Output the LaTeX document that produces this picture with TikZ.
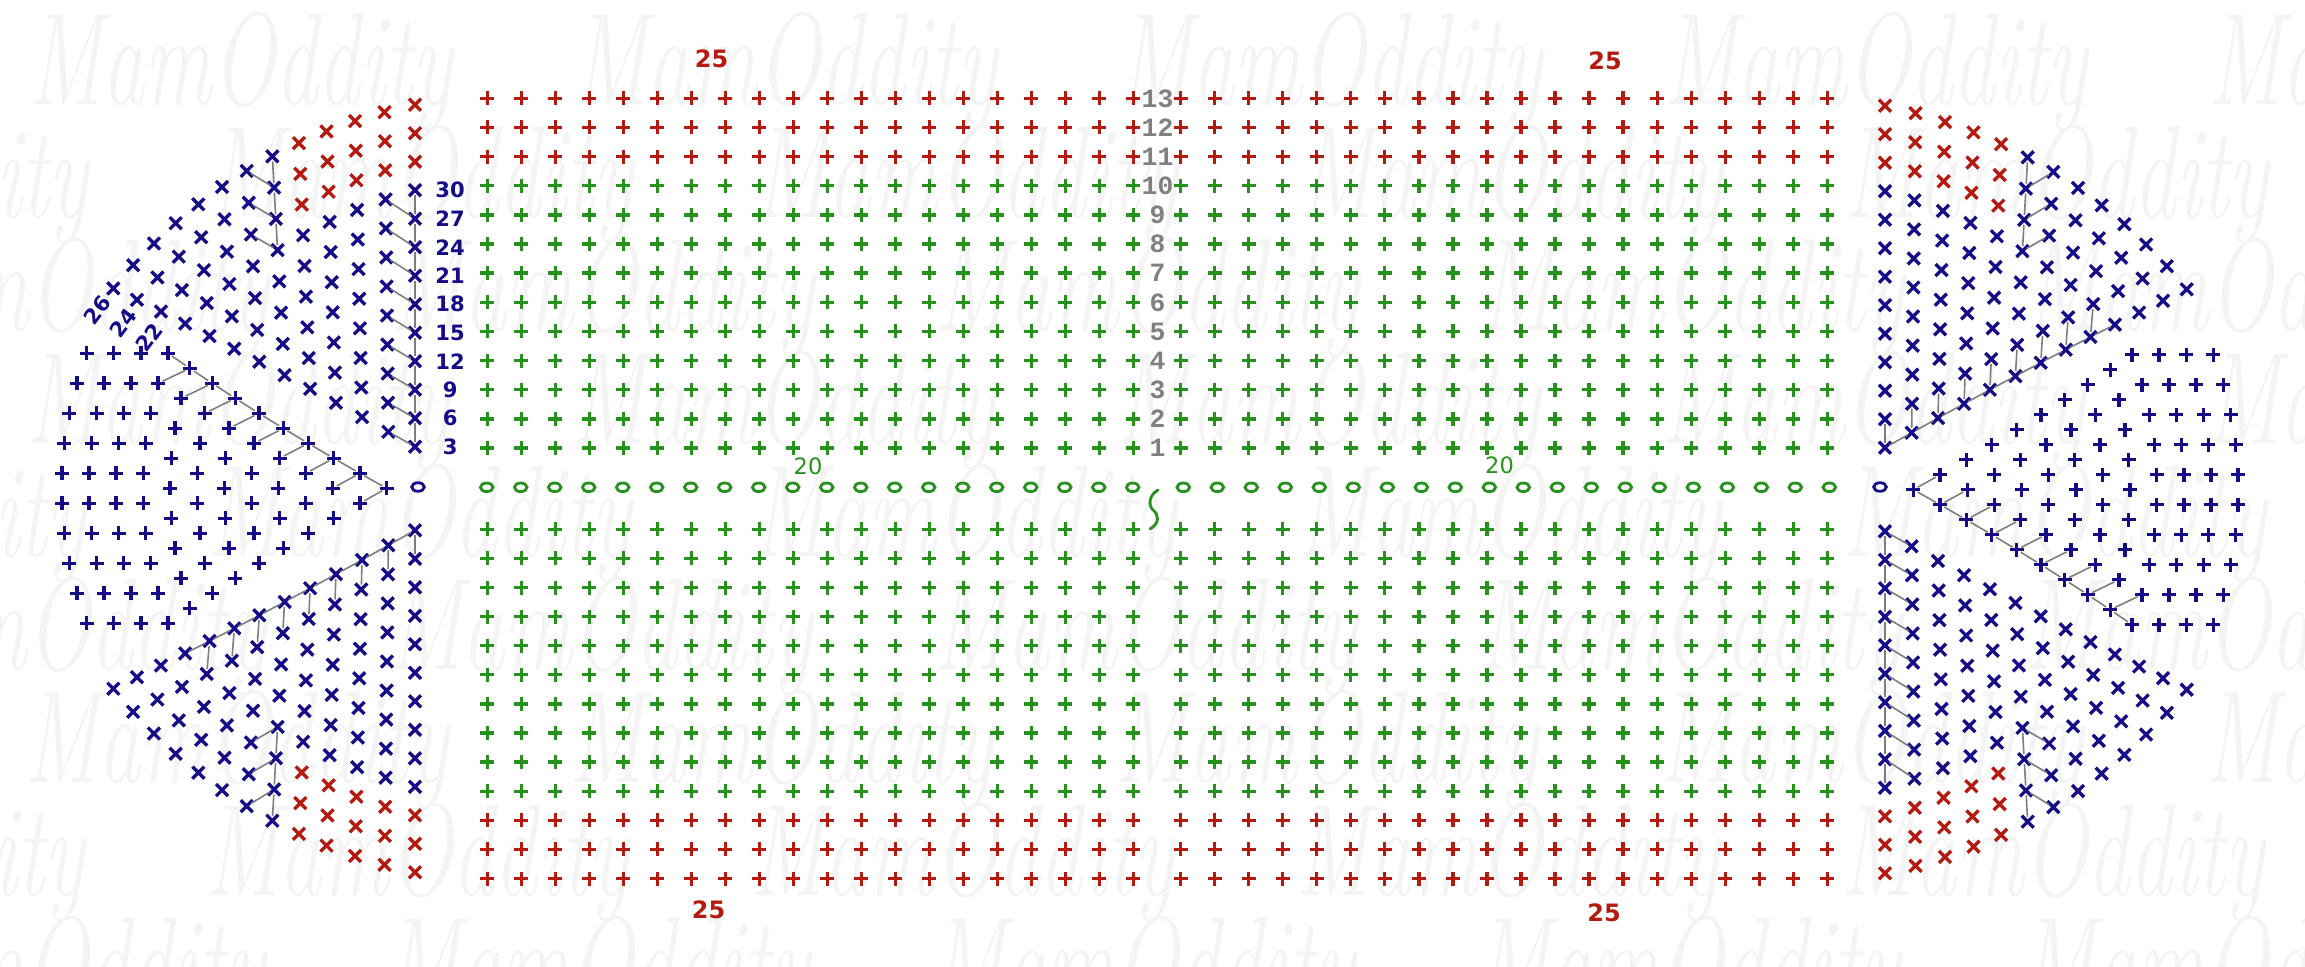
\documentclass[tikz,border=0pt]{standalone}
\usepackage{fontspec}
\usepackage{tikz}
\usetikzlibrary{positioning}
\newfontfamily\labfont{DejaVu Sans}
\newfontfamily\rowfont{Liberation Mono}

\definecolor{stred}{RGB}{180,26,16}
\definecolor{stgreen}{RGB}{38,145,28}
\definecolor{stnavy}{RGB}{22,12,135}
\definecolor{rowgray}{RGB}{128,128,128}
\definecolor{linkgray}{RGB}{125,125,125}
\definecolor{markgray}{RGB}{244,244,244}

\tikzset{
  stitch/.style={line width=0.95pt},
  link/.style={draw=linkgray, line width=0.45pt, shorten <=1.4pt, shorten >=1.4pt},
  rownum/.style={font=\rowfont\bfseries\fontsize{7.5pt}{8pt}\selectfont, text=rowgray, inner sep=0pt},
  bignum/.style={font=\labfont\bfseries\fontsize{6.8pt}{8pt}\selectfont, text=stred, inner sep=0pt},
  chnum/.style={font=\labfont\fontsize{6.4pt}{8pt}\selectfont, text=stgreen, inner sep=0pt},
  incnum/.style={font=\labfont\bfseries\fontsize{6pt}{7pt}\selectfont, text=stnavy, inner sep=0pt},
  wmark/.style={font=\itshape\fontsize{24pt}{24pt}\selectfont, text=markgray, inner sep=0pt, anchor=west}
}

\newcommand{\scplus}[2]{\draw[stitch,#2] (#1) ++(-7,0) -- ++(14,0) (#1) ++(0,-7) -- ++(0,14);}
\newcommand{\scex}[2]{\draw[stitch,#2] (#1) ++(-6,-6) -- ++(12,12) (#1) ++(-6,6) -- ++(12,-12);}
\newcommand{\chst}[2]{\draw[stitch,#2,line width=0.8pt] (#1) ellipse [x radius=6.3, y radius=4.3];}

\newcommand{\ovalcap}[1]{%
  \foreach \col in {0,...,12}{
    \pgfmathtruncatemacro\kmax{12-\col}
    \foreach \kk in {0,...,\kmax}{
      \pgfmathsetmacro\px{415-26.76*\col+0.135*\col*\col-0.35*\col*\kk}
      \pgfmathsetmacro\py{446.7-15.13*\col+0.161*\col*\col-(28.5+0.55*\col)*\kk}
      \pgfmathsetmacro\qy{977-\py}
      \coordinate (#1-u-\col-\kk) at (\px,\py);
      \coordinate (#1-d-\col-\kk) at (\px,\qy);
      \pgfmathtruncatemacro\isred{(\col<5)&&(\kk>9-\col)}
      \ifnum\isred=1 \def\stc{stred}\else\def\stc{stnavy}\fi
      \scex{#1-u-\col-\kk}{\stc}
      \scex{#1-d-\col-\kk}{\stc}
    }
  }
  \foreach \m in {0,...,12}{
    \pgfmathtruncatemacro\nn{min(10,13-\m)}
    \pgfmathtruncatemacro\jmax{\nn-1}
    \foreach \j in {0,...,\jmax}{
      \pgfmathsetmacro\dy{30*(\j-(\nn-1)/2)}
      \pgfmathsetmacro\ddy{abs(\dy)}
      \pgfmathsetmacro\px{61.7+27.08*\m+0.00138*\ddy*\ddy}
      \pgfmathsetmacro\py{488.3+(\dy)}
      \coordinate (#1-m-\m-\j) at (\px,\py);
      \scplus{#1-m-\m-\j}{stnavy}
    }
  }
  \foreach \kk [count=\kn] in {0,...,8}{
    \draw[link] (#1-u-1-\kk) -- (#1-u-0-\kk);
    \draw[link] (#1-u-0-\kn) -- (#1-u-0-\kk);
    \draw[link] (#1-d-\kn-0) -- (#1-d-\kk-0);
    \draw[link] (#1-d-\kk-1) -- (#1-d-\kk-0);
  }
  \foreach \kk [count=\kn from 5] in {4,5,6}{
    \draw[link] (#1-u-6-\kk) -- (#1-u-5-\kk);
    \draw[link] (#1-u-5-\kn) -- (#1-u-5-\kk);
    \draw[link] (#1-d-6-\kk) -- (#1-d-5-\kk);
    \draw[link] (#1-d-5-\kn) -- (#1-d-5-\kk);
  }
  \foreach \m [count=\mn from 4] in {3,...,11}{
    \draw[link] (#1-m-\m-0) -- (#1-m-\mn-0);
    \draw[link] (#1-m-\m-1) -- (#1-m-\mn-0);
  }
}

\begin{document}
\begin{tikzpicture}[x=0.01cm, y=-0.01cm]
\useasboundingbox (0,0) rectangle (2305,966);
\clip (0,0) rectangle (2305,966);
\fill[white] (0,0) rectangle (2305,966);

\foreach \j in {0,...,8}{
  \pgfmathsetmacro\wy{72+113*\j}
  \pgfmathsetmacro\wx{28+mod(181*\j,545)-545}
  \foreach \t in {0,...,5}{
    \node[wmark] (wm-\j-\t) at (\wx+545*\t,\wy) {\scalebox{1}[1.55]{MamOddity}};
  }
}

\foreach \r in {1,...,13}{
  \pgfmathsetmacro\ty{448-29.14*(\r-1)}
  \pgfmathsetmacro\by{529.3+29.1*(\r-1)}
  \ifnum\r>10 \def\stc{stred}\else\def\stc{stgreen}\fi
  \foreach \i in {0,...,19}{
    \pgfmathsetmacro\lx{487.2+34*\i}
    \pgfmathsetmacro\rx{1180.5+34.05*\i}
    \coordinate (tl-\r-\i) at (\lx,\ty);
    \coordinate (tr-\r-\i) at (\rx,\ty);
    \coordinate (bl-\r-\i) at (\lx,\by);
    \coordinate (br-\r-\i) at (\rx,\by);
    \scplus{tl-\r-\i}{\stc}
    \scplus{tr-\r-\i}{\stc}
    \scplus{bl-\r-\i}{\stc}
    \scplus{br-\r-\i}{\stc}
  }
  \node[rownum] (num-\r) at (1157.5,\ty) {\r};
}

\foreach \i in {0,...,19}{
  \coordinate (chl-\i) at (486.7+34*\i,487.3);
  \coordinate (chr-\i) at (1183.3+34*\i,487.3);
  \chst{chl-\i}{stgreen}
  \chst{chr-\i}{stgreen}
}
\draw[stgreen, line width=0.8pt, line cap=round] (1158,490) .. controls (1149,495) and (1148,505) .. (1153,510) .. controls (1159,515) and (1160,523) .. (1150,529);

\coordinate (L-ring) at (418,487);
\coordinate (R-ring) at (1880,487);
\chst{L-ring}{stnavy}
\chst{R-ring}{stnavy}

\ovalcap{L}
\begin{scope}[rotate around={180:(1150,489)}]
\ovalcap{R}
\end{scope}

\foreach \kk in {0,...,9}{
  \pgfmathtruncatemacro\lab{3*(\kk+1)}
  \node[incnum] (inc-\kk) at ([xshift=10pt]L-u-0-\kk) {\lab};
}
\node[incnum, rotate=53] (side-26) at ([shift={(-16,22)}]L-u-12-0) {26};
\node[incnum, rotate=53] (side-24) at ([shift={(-14,23)}]L-u-11-0) {24};
\node[incnum, rotate=53] (side-22) at ([shift={(-12,26)}]L-u-10-0) {22};

\node[bignum] (top-l) at (711.5,59) {25};
\node[bignum] (top-r) at (1605,61) {25};
\node[bignum] (bot-l) at (708.5,910) {25};
\node[bignum] (bot-r) at (1604,913) {25};
\node[chnum] (ch-l) at (808,466.5) {20};
\node[chnum] (ch-r) at (1499.5,465) {20};
\end{tikzpicture}
\end{document}
